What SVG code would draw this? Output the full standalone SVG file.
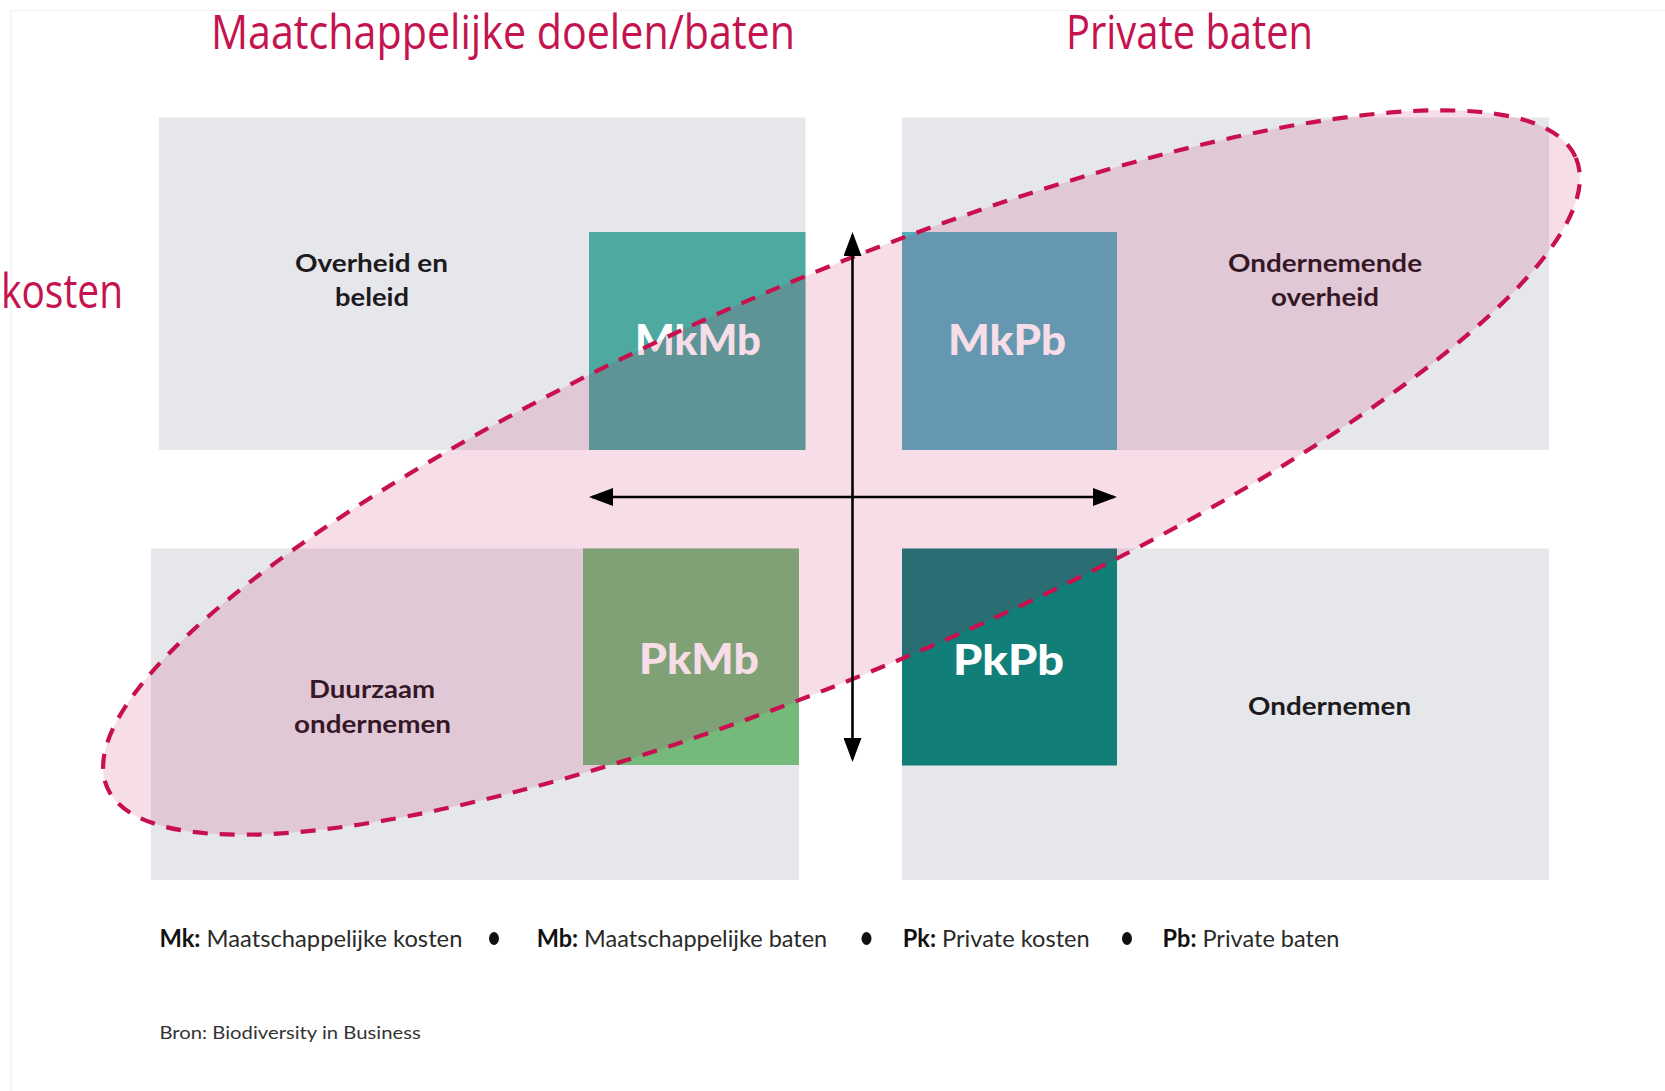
<svg xmlns="http://www.w3.org/2000/svg" width="1665" height="1091" viewBox="0 0 1665 1091">
<defs>
<marker id="ah" viewBox="0 0 24 18" refX="21" refY="9" markerWidth="24" markerHeight="18" markerUnits="userSpaceOnUse" orient="auto-start-reverse">
<path d="M0,0 L24,9 L0,18 z" fill="#000"/>
</marker>
<style>
.area{fill:#e6e7ea}
.title{font-family:"Open Sans","Noto Sans",sans-serif;font-size:47px;fill:#c4134e}
.lbl{font-family:Lato,"Open Sans",sans-serif;font-size:25px;font-weight:700;fill:#1c1a1d;text-anchor:middle}
.blk{font-family:Lato,"Open Sans",sans-serif;font-size:42px;font-weight:900;fill:#ffffff;text-anchor:middle}
.leg{font-family:Lato,"Open Sans",sans-serif;font-size:24px;fill:#2a2a2a}
.b{font-weight:700;fill:#111}
.src{font-family:Lato,"Open Sans",sans-serif;font-size:18px;fill:#333}
.axis{stroke:#000;stroke-width:2.6;fill:none}
.frame{stroke:#f1f1f1;stroke-width:1.2;fill:none}
</style>
</defs>
<rect width="1665" height="1091" fill="#ffffff"/>
<path class="frame" d="M11,1091 L11,10.5 L1665,10.5"/>

<g id="titles">
<text class="title" x="211" y="49.4" textLength="584" lengthAdjust="spacingAndGlyphs">Maatchappelijke doelen/baten</text>
<text class="title" x="1066" y="49.4" textLength="247" lengthAdjust="spacingAndGlyphs">Private baten</text>
<text class="title" x="1" y="307.6" textLength="122" lengthAdjust="spacingAndGlyphs">kosten</text>
</g>

<g id="quadrant-overheid">
<rect class="area" x="159" y="117.5" width="646.5" height="332.5"/>
<text class="lbl" x="371.5" y="271.8" textLength="153" lengthAdjust="spacingAndGlyphs">Overheid en</text>
<text class="lbl" x="372" y="306" textLength="74" lengthAdjust="spacingAndGlyphs">beleid</text>
</g>
<g id="quadrant-ondernemende-overheid">
<rect class="area" x="902" y="117.5" width="647" height="332.5"/>
<text class="lbl" x="1325" y="271.8" textLength="194" lengthAdjust="spacingAndGlyphs">Ondernemende</text>
<text class="lbl" x="1325" y="306" textLength="108" lengthAdjust="spacingAndGlyphs">overheid</text>
</g>
<g id="quadrant-duurzaam">
<rect class="area" x="151" y="548.5" width="648" height="331.5"/>
<text class="lbl" x="372" y="698" textLength="126" lengthAdjust="spacingAndGlyphs">Duurzaam</text>
<text class="lbl" x="372.5" y="732.5" textLength="157" lengthAdjust="spacingAndGlyphs">ondernemen</text>
</g>
<g id="quadrant-ondernemen">
<rect class="area" x="902" y="548.5" width="647" height="331.5"/>
<text class="lbl" x="1329.6" y="715.3" textLength="163" lengthAdjust="spacingAndGlyphs">Ondernemen</text>
</g>

<g id="mkmb">
<rect x="589" y="232" width="216.5" height="218" fill="#4eaaa0"/>
<text class="blk" x="698" y="355" textLength="126" lengthAdjust="spacingAndGlyphs">MkMb</text>
</g>
<g id="mkpb">
<rect x="902" y="232" width="215" height="218" fill="#56afbe"/>
<text class="blk" x="1007" y="355" textLength="118" lengthAdjust="spacingAndGlyphs">MkPb</text>
</g>
<g id="pkmb">
<rect x="583" y="548.5" width="216" height="216.5" fill="#75b97b"/>
<text class="blk" x="699" y="674" textLength="120" lengthAdjust="spacingAndGlyphs">PkMb</text>
</g>
<g id="pkpb">
<rect x="902" y="548.5" width="215" height="217" fill="#117e78"/>
<text class="blk" x="1008.5" y="675" textLength="111" lengthAdjust="spacingAndGlyphs">PkPb</text>
</g>

<g id="highlight-ellipse">
<ellipse cx="841.5" cy="472.5" rx="799" ry="195" transform="rotate(-23.2 841.5 472.5)" fill="rgb(198,16,92)" fill-opacity="0.14" stroke="#c8104e" stroke-width="4.2" stroke-dasharray="15 12"/>
</g>

<g id="connectors">
<line class="axis" x1="592" y1="497" x2="1114" y2="497" marker-start="url(#ah)" marker-end="url(#ah)"/>
<line class="axis" x1="852.5" y1="235" x2="852.5" y2="759" marker-start="url(#ah)" marker-end="url(#ah)"/>
</g>

<g id="legend">
<text class="leg" x="159.4" y="946.5" textLength="303" lengthAdjust="spacingAndGlyphs"><tspan class="b">Mk:</tspan> Maatschappelijke kosten</text>
<ellipse cx="494" cy="938.5" rx="5" ry="6.5" fill="#111"/>
<text class="leg" x="536.7" y="946.5" textLength="290.5" lengthAdjust="spacingAndGlyphs"><tspan class="b">Mb:</tspan> Maatschappelijke baten</text>
<ellipse cx="866.5" cy="938.5" rx="5" ry="6.5" fill="#111"/>
<text class="leg" x="902.7" y="946.5" textLength="187" lengthAdjust="spacingAndGlyphs"><tspan class="b">Pk:</tspan> Private kosten</text>
<ellipse cx="1127" cy="938.5" rx="5" ry="6.5" fill="#111"/>
<text class="leg" x="1162.5" y="946.5" textLength="177" lengthAdjust="spacingAndGlyphs"><tspan class="b">Pb:</tspan> Private baten</text>
</g>

<g id="source">
<text class="src" x="159.4" y="1038.6" textLength="261.4" lengthAdjust="spacingAndGlyphs">Bron: Biodiversity in Business</text>
</g>
</svg>
